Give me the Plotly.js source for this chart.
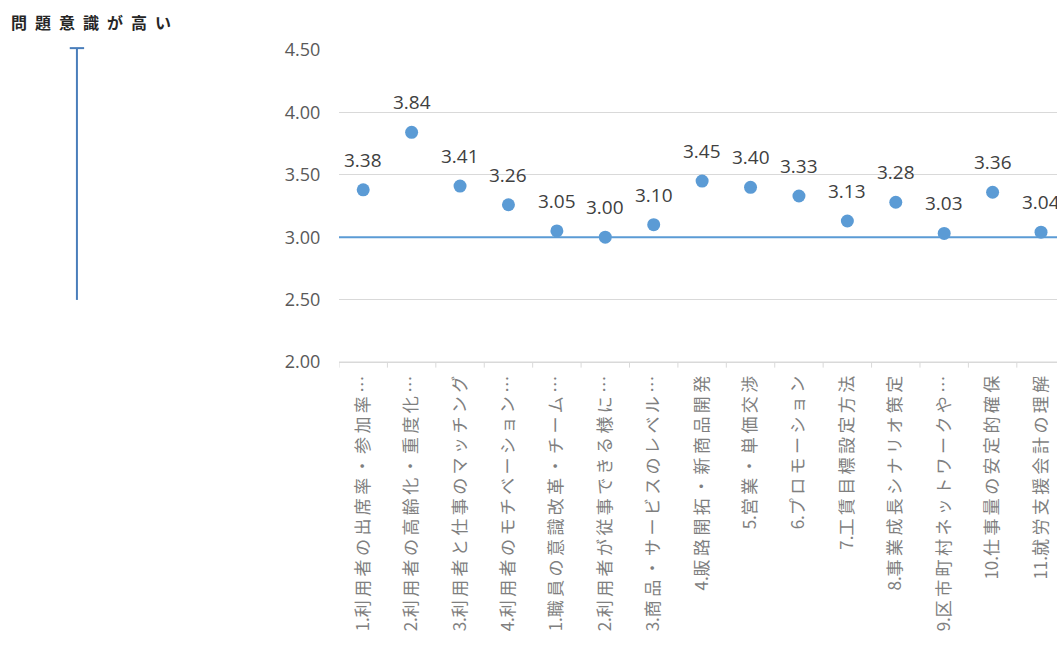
<!DOCTYPE html>
<html><head><meta charset="utf-8">
<script src="https://cdn.plot.ly/plotly-3.0.1.min.js"></script>
<style>html,body{margin:0;padding:0;background:#fff;}#chart{width:1057px;height:650px;}</style>
</head><body><div id="chart"></div>
<script>
const categories = [
  "1.利用者の出席率・参加率…",
  "2.利用者の高齢化・重度化…",
  "3.利用者と仕事のマッチング",
  "4.利用者のモチベーション…",
  "1.職員の意識改革・チーム…",
  "2.利用者が従事できる様に…",
  "3.商品・サービスのレベル…",
  "4.販路開拓・新商品開発",
  "5.営業・単価交渉",
  "6.プロモーション",
  "7.工賃目標設定方法",
  "8.事業成長シナリオ策定",
  "9.区市町村ネットワークや…",
  "10.仕事量の安定的確保",
  "11.就労支援会計の理解"
];
const values = [3.38, 3.84, 3.41, 3.26, 3.05, 3.00, 3.10, 3.45, 3.40, 3.33, 3.13, 3.28, 3.03, 3.36, 3.04];
const referenceValue = 3.0;
const titleText = "問題意識が高い";
const yTickVals = [2, 2.5, 3, 3.5, 4, 4.5];

// spread characters slightly (the original uses wide letter spacing)
function spaced(s, sp) {
  const chars = Array.from(s);
  let out = "";
  chars.forEach((c, i) => {
    out += c;
    if (i < chars.length - 1) {
      if (!/[0-9.]/.test(c)) out += sp;
    }
  });
  return out;
}

const idx = categories.map((_, i) => i);
const trace = {
  type: "scatter",
  mode: "markers",
  x: idx,
  y: values,
  marker: {size: 13, color: "#5B9BD5"},
  cliponaxis: false,
  hoverinfo: "skip"
};

const annotations = values.map((v, i) => ({
  x: i, y: v, xref: "x", yref: "y", text: v.toFixed(2), showarrow: false,
  yanchor: "middle", xanchor: "center", yshift: 30,
  font: {size: 19, color: "#404040", family: "Open Sans, sans-serif"}
}));
annotations.push({
  text: "<b>" + spaced(titleText, "\u2002") + "</b>", xref: "paper", yref: "paper",
  x: -0.46, y: 1.0, xanchor: "left", yanchor: "middle", yshift: 28, showarrow: false,
  font: {size: 16, color: "#262626", family: "Noto Sans CJK JP, sans-serif"}
});

const layout = {
  width: 1057, height: 650,
  margin: {l: 339, r: 0, t: 50, b: 288},
  paper_bgcolor: "#fff", plot_bgcolor: "#fff",
  showlegend: false,
  font: {family: "Noto Sans CJK JP, sans-serif", color: "#595959"},
  xaxis: {
    type: "linear",
    range: [-0.5, 14.33],
    tickmode: "array",
    tickvals: idx,
    ticktext: categories.map(c => spaced(c, "\u2009")),
    tickangle: -90,
    tickfont: {size: 17, color: "#7f7f7f", family: "Noto Sans CJK JP, sans-serif"},
    showgrid: false,
    zeroline: false,
    showline: true,
    linecolor: "#d9d9d9",
    linewidth: 1,
    ticks: "outside",
    ticklen: 6,
    tickcolor: "rgba(0,0,0,0)",
    fixedrange: true
  },
  yaxis: {
    range: [2, 4.5],
    tickmode: "array",
    tickvals: yTickVals,
    ticktext: yTickVals.map(v => v.toFixed(2)),
    tickfont: {size: 18, color: "#595959", family: "Open Sans, sans-serif"},
    showgrid: true,
    gridcolor: "#d9d9d9",
    gridwidth: 1,
    zeroline: false,
    showline: false,
    ticks: "outside",
    ticklen: 14,
    tickcolor: "rgba(0,0,0,0)",
    fixedrange: true
  },
  shapes: [
    {type: "line", xref: "paper", yref: "y", x0: 0, x1: 1, y0: referenceValue, y1: referenceValue,
     line: {color: "#5B9BD5", width: 2}},
    {type: "line", xref: "paper", yref: "y", x0: 0, x1: 1, y0: 2, y1: 2,
     line: {color: "#d9d9d9", width: 1}},
    {type: "line", xref: "paper", yref: "paper", x0: -0.365, x1: -0.365, y0: 0.199, y1: 1.006,
     line: {color: "#4A7EBB", width: 2}},
    {type: "line", xref: "paper", yref: "paper", x0: -0.375, x1: -0.355, y0: 1.006, y1: 1.006,
     line: {color: "#4A7EBB", width: 2}}
  ],
  annotations: annotations
};

// category boundary tick marks below axis
for (let i = 0; i <= categories.length; i++) {
  layout.shapes.push({type: "line", xref: "x", yref: "paper", x0: i - 0.5, x1: i - 0.5,
    y0: 0, y1: -0.018, line: {color: "#d9d9d9", width: 1}});
}

Plotly.newPlot("chart", [trace], layout, {displayModeBar: false, staticPlot: true});
</script>
</body></html>
